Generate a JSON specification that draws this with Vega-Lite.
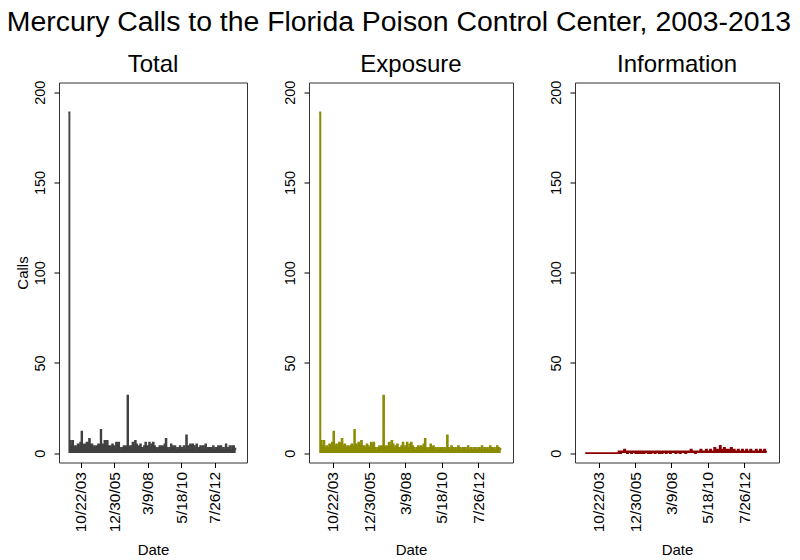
{
"$schema": "https://vega.github.io/schema/vega-lite/v6.json",
"padding": {"left": 6, "top": 7.5, "right": 0, "bottom": 5},
"background": "white",
"title": {"text": "Mercury Calls to the Florida Poison Control Center, 2003-2013", "fontSize": 28.4, "font": "Liberation Sans", "fontWeight": "normal", "anchor": "middle", "frame": "bounds", "offset": 15.5, "dx": 2, "color": "black"},
"datasets": {"calls": [
{"date":"2003-01-01","total":189,"exposure":189,"information":0},
{"date":"2003-02-01","total":7,"exposure":7,"information":0},
{"date":"2003-03-01","total":4,"exposure":4,"information":0},
{"date":"2003-04-01","total":7,"exposure":7,"information":0},
{"date":"2003-05-01","total":3,"exposure":3,"information":0},
{"date":"2003-06-01","total":4,"exposure":4,"information":0},
{"date":"2003-07-01","total":3,"exposure":3,"information":0},
{"date":"2003-08-01","total":5,"exposure":5,"information":0},
{"date":"2003-09-01","total":4,"exposure":4,"information":0},
{"date":"2003-10-01","total":6,"exposure":6,"information":0},
{"date":"2003-11-01","total":12,"exposure":12,"information":0},
{"date":"2003-12-01","total":4,"exposure":4,"information":0},
{"date":"2004-01-01","total":5,"exposure":5,"information":0},
{"date":"2004-02-01","total":3,"exposure":3,"information":0},
{"date":"2004-03-01","total":6,"exposure":6,"information":0},
{"date":"2004-04-01","total":5,"exposure":5,"information":0},
{"date":"2004-05-01","total":8,"exposure":8,"information":0},
{"date":"2004-06-01","total":4,"exposure":4,"information":0},
{"date":"2004-07-01","total":5,"exposure":5,"information":0},
{"date":"2004-08-01","total":3,"exposure":3,"information":0},
{"date":"2004-09-01","total":4,"exposure":4,"information":0},
{"date":"2004-10-01","total":3,"exposure":3,"information":0},
{"date":"2004-11-01","total":4,"exposure":4,"information":0},
{"date":"2004-12-01","total":5,"exposure":5,"information":0},
{"date":"2005-01-01","total":4,"exposure":4,"information":1},
{"date":"2005-02-01","total":13,"exposure":13,"information":0},
{"date":"2005-03-01","total":5,"exposure":5,"information":1},
{"date":"2005-04-01","total":4,"exposure":4,"information":1},
{"date":"2005-05-01","total":7,"exposure":6,"information":2},
{"date":"2005-06-01","total":4,"exposure":4,"information":1},
{"date":"2005-07-01","total":7,"exposure":7,"information":0},
{"date":"2005-08-01","total":4,"exposure":4,"information":1},
{"date":"2005-09-01","total":4,"exposure":4,"information":1},
{"date":"2005-10-01","total":3,"exposure":3,"information":0},
{"date":"2005-11-01","total":5,"exposure":5,"information":1},
{"date":"2005-12-01","total":4,"exposure":4,"information":1},
{"date":"2006-01-01","total":3,"exposure":3,"information":0},
{"date":"2006-02-01","total":6,"exposure":6,"information":1},
{"date":"2006-03-01","total":5,"exposure":5,"information":0},
{"date":"2006-04-01","total":6,"exposure":6,"information":1},
{"date":"2006-05-01","total":3,"exposure":3,"information":0},
{"date":"2006-06-01","total":2,"exposure":2,"information":1},
{"date":"2006-07-01","total":3,"exposure":3,"information":0},
{"date":"2006-08-01","total":4,"exposure":4,"information":1},
{"date":"2006-09-01","total":3,"exposure":3,"information":1},
{"date":"2006-10-01","total":4,"exposure":4,"information":0},
{"date":"2006-11-01","total":32,"exposure":32,"information":1},
{"date":"2006-12-01","total":3,"exposure":3,"information":0},
{"date":"2007-01-01","total":4,"exposure":4,"information":1},
{"date":"2007-02-01","total":3,"exposure":3,"information":1},
{"date":"2007-03-01","total":6,"exposure":6,"information":0},
{"date":"2007-04-01","total":4,"exposure":4,"information":1},
{"date":"2007-05-01","total":7,"exposure":7,"information":1},
{"date":"2007-06-01","total":5,"exposure":5,"information":0},
{"date":"2007-07-01","total":3,"exposure":3,"information":1},
{"date":"2007-08-01","total":4,"exposure":4,"information":0},
{"date":"2007-09-01","total":5,"exposure":5,"information":1},
{"date":"2007-10-01","total":3,"exposure":3,"information":1},
{"date":"2007-11-01","total":3,"exposure":3,"information":0},
{"date":"2007-12-01","total":4,"exposure":4,"information":1},
{"date":"2008-01-01","total":6,"exposure":6,"information":1},
{"date":"2008-02-01","total":3,"exposure":3,"information":0},
{"date":"2008-03-01","total":4,"exposure":4,"information":1},
{"date":"2008-04-01","total":6,"exposure":6,"information":1},
{"date":"2008-05-01","total":3,"exposure":3,"information":1},
{"date":"2008-06-01","total":5,"exposure":5,"information":0},
{"date":"2008-07-01","total":6,"exposure":6,"information":1},
{"date":"2008-08-01","total":4,"exposure":4,"information":1},
{"date":"2008-09-01","total":3,"exposure":3,"information":0},
{"date":"2008-10-01","total":2,"exposure":2,"information":1},
{"date":"2008-11-01","total":3,"exposure":3,"information":1},
{"date":"2008-12-01","total":4,"exposure":4,"information":1},
{"date":"2009-01-01","total":3,"exposure":3,"information":0},
{"date":"2009-02-01","total":4,"exposure":4,"information":1},
{"date":"2009-03-01","total":3,"exposure":3,"information":1},
{"date":"2009-04-01","total":5,"exposure":5,"information":1},
{"date":"2009-05-01","total":8,"exposure":8,"information":2},
{"date":"2009-06-01","total":3,"exposure":3,"information":1},
{"date":"2009-07-01","total":2,"exposure":2,"information":1},
{"date":"2009-08-01","total":3,"exposure":3,"information":0},
{"date":"2009-09-01","total":5,"exposure":5,"information":1},
{"date":"2009-10-01","total":3,"exposure":3,"information":1},
{"date":"2009-11-01","total":4,"exposure":4,"information":1},
{"date":"2009-12-01","total":4,"exposure":3,"information":2},
{"date":"2010-01-01","total":2,"exposure":2,"information":1},
{"date":"2010-02-01","total":3,"exposure":3,"information":1},
{"date":"2010-03-01","total":2,"exposure":2,"information":1},
{"date":"2010-04-01","total":4,"exposure":3,"information":2},
{"date":"2010-05-01","total":3,"exposure":3,"information":1},
{"date":"2010-06-01","total":2,"exposure":2,"information":1},
{"date":"2010-07-01","total":4,"exposure":3,"information":2},
{"date":"2010-08-01","total":2,"exposure":2,"information":1},
{"date":"2010-09-01","total":10,"exposure":10,"information":1},
{"date":"2010-10-01","total":4,"exposure":3,"information":3},
{"date":"2010-11-01","total":2,"exposure":2,"information":1},
{"date":"2010-12-01","total":5,"exposure":4,"information":2},
{"date":"2011-01-01","total":4,"exposure":3,"information":2},
{"date":"2011-02-01","total":5,"exposure":2,"information":4},
{"date":"2011-03-01","total":4,"exposure":3,"information":2},
{"date":"2011-04-01","total":2,"exposure":2,"information":1},
{"date":"2011-05-01","total":5,"exposure":4,"information":3},
{"date":"2011-06-01","total":3,"exposure":3,"information":1},
{"date":"2011-07-01","total":3,"exposure":2,"information":2},
{"date":"2011-08-01","total":4,"exposure":3,"information":2},
{"date":"2011-09-01","total":2,"exposure":2,"information":1},
{"date":"2011-10-01","total":4,"exposure":3,"information":3},
{"date":"2011-11-01","total":2,"exposure":2,"information":1},
{"date":"2011-12-01","total":5,"exposure":4,"information":2},
{"date":"2012-01-01","total":2,"exposure":2,"information":1},
{"date":"2012-02-01","total":3,"exposure":3,"information":1},
{"date":"2012-03-01","total":3,"exposure":2,"information":2},
{"date":"2012-04-01","total":3,"exposure":3,"information":1},
{"date":"2012-05-01","total":2,"exposure":2,"information":1},
{"date":"2012-06-01","total":4,"exposure":3,"information":2},
{"date":"2012-07-01","total":2,"exposure":2,"information":1},
{"date":"2012-08-01","total":3,"exposure":3,"information":1},
{"date":"2012-09-01","total":3,"exposure":2,"information":2},
{"date":"2012-10-01","total":4,"exposure":4,"information":1},
{"date":"2012-11-01","total":2,"exposure":2,"information":1},
{"date":"2012-12-01","total":4,"exposure":3,"information":2},
{"date":"2013-01-01","total":2,"exposure":2,"information":1},
{"date":"2013-02-01","total":3,"exposure":3,"information":1},
{"date":"2013-03-01","total":2,"exposure":2,"information":1},
{"date":"2013-04-01","total":5,"exposure":4,"information":2},
{"date":"2013-05-01","total":3,"exposure":3,"information":1},
{"date":"2013-06-01","total":2,"exposure":2,"information":1},
{"date":"2013-07-01","total":4,"exposure":3,"information":2},
{"date":"2013-08-01","total":2,"exposure":2,"information":1},
{"date":"2013-09-01","total":4,"exposure":4,"information":1},
{"date":"2013-10-01","total":4,"exposure":3,"information":2},
{"date":"2013-11-01","total":2,"exposure":2,"information":1},
{"date":"2013-12-01","total":3,"exposure":3,"information":1}
]},
"hconcat": [
{
 "width": 188, "height": 380,
 "title": {"text": "Total"},
 "data": {"name": "calls"},
 "encoding": {
  "x": {"field": "date", "type": "temporal",
   "scale": {"type": "utc", "domain": [{"year": 2002, "month": 5, "date": 21, "utc": true}, {"year": 2014, "month": 8, "date": 28, "utc": true}]},
   "axis": {"title": "Date", "values": [{"year": 2003, "month": 10, "date": 22, "utc": true}, {"year": 2005, "month": 12, "date": 30, "utc": true}, {"year": 2008, "month": 3, "date": 9, "utc": true}, {"year": 2010, "month": 5, "date": 18, "utc": true}, {"year": 2012, "month": 7, "date": 26, "utc": true}], "labelExpr": "utcFormat(datum.value, '%-m/%-d/%y')", "labelAngle": -90, "labelAlign": "right", "labelBaseline": "middle", "labelPadding": 4, "labelFontSize": 15.5, "titlePadding": 11}},
  "y": {"field": "total", "type": "quantitative", "stack": null,
   "scale": {"domain": [-5.2, 205.4], "nice": false, "zero": false},
   "axis": {"title": "Calls", "values": [0, 50, 100, 150, 200], "labelAngle": -90, "labelAlign": "center", "labelBaseline": "bottom", "labelPadding": 7, "titlePadding": 2}}
 },
 "layer": [
  {"mark": {"type": "area", "interpolate": "step-after", "color": "#404040"}},
  {"mark": {"type": "line", "interpolate": "step-after", "color": "#404040", "strokeWidth": 1.2}}
 ]
},
{
 "width": 204, "height": 380,
 "title": {"text": "Exposure"},
 "data": {"name": "calls"},
 "encoding": {
  "x": {"field": "date", "type": "temporal",
   "scale": {"type": "utc", "domain": [{"year": 2002, "month": 5, "date": 21, "utc": true}, {"year": 2014, "month": 8, "date": 28, "utc": true}]},
   "axis": {"title": "Date", "values": [{"year": 2003, "month": 10, "date": 22, "utc": true}, {"year": 2005, "month": 12, "date": 30, "utc": true}, {"year": 2008, "month": 3, "date": 9, "utc": true}, {"year": 2010, "month": 5, "date": 18, "utc": true}, {"year": 2012, "month": 7, "date": 26, "utc": true}], "labelExpr": "utcFormat(datum.value, '%-m/%-d/%y')", "labelAngle": -90, "labelAlign": "right", "labelBaseline": "middle", "labelPadding": 4, "labelFontSize": 15.5, "titlePadding": 11}},
  "y": {"field": "exposure", "type": "quantitative", "stack": null,
   "scale": {"domain": [-5.2, 205.4], "nice": false, "zero": false},
   "axis": {"title": null, "values": [0, 50, 100, 150, 200], "labelAngle": -90, "labelAlign": "center", "labelBaseline": "bottom", "labelPadding": 7}}
 },
 "layer": [
  {"mark": {"type": "area", "interpolate": "step-after", "color": "#8b8b00"}},
  {"mark": {"type": "line", "interpolate": "step-after", "color": "#8b8b00", "strokeWidth": 1.2}}
 ]
},
{
 "width": 204, "height": 380,
 "title": {"text": "Information"},
 "data": {"name": "calls"},
 "encoding": {
  "x": {"field": "date", "type": "temporal",
   "scale": {"type": "utc", "domain": [{"year": 2002, "month": 5, "date": 21, "utc": true}, {"year": 2014, "month": 8, "date": 28, "utc": true}]},
   "axis": {"title": "Date", "values": [{"year": 2003, "month": 10, "date": 22, "utc": true}, {"year": 2005, "month": 12, "date": 30, "utc": true}, {"year": 2008, "month": 3, "date": 9, "utc": true}, {"year": 2010, "month": 5, "date": 18, "utc": true}, {"year": 2012, "month": 7, "date": 26, "utc": true}], "labelExpr": "utcFormat(datum.value, '%-m/%-d/%y')", "labelAngle": -90, "labelAlign": "right", "labelBaseline": "middle", "labelPadding": 4, "labelFontSize": 15.5, "titlePadding": 11}},
  "y": {"field": "information", "type": "quantitative", "stack": null,
   "scale": {"domain": [-5.2, 205.4], "nice": false, "zero": false},
   "axis": {"title": null, "values": [0, 50, 100, 150, 200], "labelAngle": -90, "labelAlign": "center", "labelBaseline": "bottom", "labelPadding": 7}}
 },
 "layer": [
  {"mark": {"type": "area", "interpolate": "step-after", "color": "#8b0000"}},
  {"mark": {"type": "line", "interpolate": "step-after", "color": "#8b0000", "strokeWidth": 1.6}}
 ]
}
],
"spacing": 62,
"bounds": "flush",
"config": {
 "view": {"stroke": "#333333", "strokeWidth": 1},
 "font": "Liberation Sans",
 "axis": {"grid": false, "domain": false, "tickColor": "black", "tickSize": 5, "labelColor": "black", "labelFontSize": 14.5, "titleFontSize": 15, "titleFontWeight": "normal", "titleColor": "black", "labelFont": "Liberation Sans", "titleFont": "Liberation Sans"},
 "title": {"fontSize": 24, "fontWeight": "normal", "frame": "group", "offset": 3, "color": "black", "font": "Liberation Sans", "anchor": "middle"}
}
}
